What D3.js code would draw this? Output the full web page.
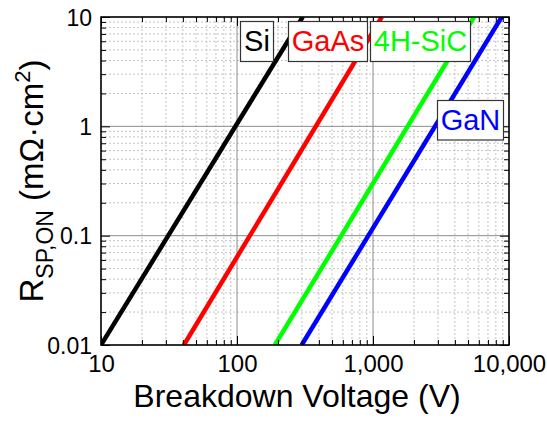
<!DOCTYPE html>
<html>
<head>
<meta charset="utf-8">
<script src="https://cdn.jsdelivr.net/npm/d3@7"></script>
<style>
  html, body { margin: 0; padding: 0; background: #fff; }
  svg { display: block; }
  text { font-family: "Liberation Sans", Arial, sans-serif; }
</style>
</head>
<body>
<svg id="chart" width="547" height="422"></svg>
<script>
// ---- data ----
const materials = ["Si", "GaAs", "4H-SiC", "GaN"];
const colors = ["#000000", "#ff0000", "#00ff00", "#0000ff"];
// breakdown voltage (V) and specific on-resistance (mΩ·cm²) end points of each straight log-log line
const siV = [10, 304];        const siR = [0.01, 10];
const gaasV = [40.7, 1160];   const gaasR = [0.01, 10];
const sicV = [190, 5530];     const sicR = [0.01, 10];
const ganV = [299, 8830];     const ganR = [0.01, 10];
const xTickValues = [10, 100, 1000, 10000];
const xTickLabels = ["10", "100", "1,000", "10,000"];
const yTickValues = [0.01, 0.1, 1, 10];
const yTickLabels = ["0.01", "0.1", "1", "10"];
const xTitle = "Breakdown Voltage (V)";

const seriesV = [siV, gaasV, sicV, ganV];
const seriesR = [siR, gaasR, sicR, ganR];

// ---- layout ----
const L = 101, R = 509, T = 17, B = 345;
const svg = d3.select("#chart");
const x = d3.scaleLog().domain([10, 10000]).range([L, R]);
const y = d3.scaleLog().domain([0.01, 10]).range([B, T]);

const xMinor = x.ticks().filter(v => !xTickValues.includes(v));
const yMinor = y.ticks().filter(v => !yTickValues.some(t => Math.abs(t - v) / t < 1e-9));

// grid
const grid = svg.append("g");
grid.selectAll(".gxm").data(xMinor).join("line")
  .attr("x1", d => x(d)).attr("x2", d => x(d)).attr("y1", T).attr("y2", B)
  .attr("stroke", "#c4c4c4").attr("stroke-width", 1).attr("stroke-dasharray", "2,2");
grid.selectAll(".gym").data(yMinor).join("line")
  .attr("y1", d => y(d)).attr("y2", d => y(d)).attr("x1", L).attr("x2", R)
  .attr("stroke", "#c4c4c4").attr("stroke-width", 1).attr("stroke-dasharray", "2,2");
grid.selectAll(".gxM").data(xTickValues).join("line")
  .attr("x1", d => x(d)).attr("x2", d => x(d)).attr("y1", T).attr("y2", B)
  .attr("stroke", "#8c8c8c").attr("stroke-width", 1);
grid.selectAll(".gyM").data(yTickValues).join("line")
  .attr("y1", d => y(d)).attr("y2", d => y(d)).attr("x1", L).attr("x2", R)
  .attr("stroke", "#8c8c8c").attr("stroke-width", 1);

// lines
svg.append("clipPath").attr("id", "clip").append("rect")
  .attr("x", L).attr("y", T).attr("width", R - L).attr("height", B - T);
const line = d3.line().x(d => x(d[0])).y(d => y(d[1]));
const lines = svg.append("g").attr("clip-path", "url(#clip)");
materials.forEach((m, i) => {
  const pts = seriesV[i].map((v, j) => [v, seriesR[i][j]]);
  lines.append("path").datum(pts).attr("d", line)
    .attr("fill", "none").attr("stroke", colors[i]).attr("stroke-width", 4.5);
});

// axes (ticks inside on all four sides)
function addAxis(gen, tx, ty) {
  const g = svg.append("g").attr("transform", `translate(${tx},${ty})`).call(gen);
  g.select(".domain").remove();
  g.selectAll("line").attr("stroke", "#000").attr("stroke-width", 1);
  return g;
}
addAxis(d3.axisBottom(x).tickValues(xMinor).tickSize(-5).tickFormat(""), 0, B);
addAxis(d3.axisBottom(x).tickValues(xTickValues).tickSize(-9).tickFormat(""), 0, B);
addAxis(d3.axisTop(x).tickValues(xMinor).tickSize(-5).tickFormat(""), 0, T);
addAxis(d3.axisTop(x).tickValues(xTickValues).tickSize(-9).tickFormat(""), 0, T);
addAxis(d3.axisLeft(y).tickValues(yMinor).tickSize(-5).tickFormat(""), L, 0);
addAxis(d3.axisLeft(y).tickValues(yTickValues).tickSize(-9).tickFormat(""), L, 0);
addAxis(d3.axisRight(y).tickValues(yMinor).tickSize(-5).tickFormat(""), R, 0);
addAxis(d3.axisRight(y).tickValues(yTickValues).tickSize(-9).tickFormat(""), R, 0);

// tick labels
const xl = svg.append("g").attr("transform", `translate(0,${B})`)
  .call(d3.axisBottom(x).tickValues(xTickValues).tickSize(0).tickPadding(0)
    .tickFormat((d, i) => xTickLabels[i]));
xl.select(".domain").remove();
xl.selectAll("text").attr("font-size", 24).attr("fill", "#000")
  .attr("font-family", "Liberation Sans, Arial, sans-serif").attr("y", 27).attr("dy", 0);

const yl = svg.append("g").attr("transform", `translate(${L},0)`)
  .call(d3.axisLeft(y).tickValues(yTickValues).tickSize(0).tickPadding(9)
    .tickFormat((d, i) => yTickLabels[i]));
yl.select(".domain").remove();
yl.selectAll("text").attr("font-size", 23).attr("fill", "#000")
  .attr("font-family", "Liberation Sans, Arial, sans-serif").attr("dy", "0.36em");

// frame
svg.append("rect").attr("x", L).attr("y", T).attr("width", R - L).attr("height", B - T)
  .attr("fill", "none").attr("stroke", "#000").attr("stroke-width", 1.5);

// axis titles
svg.append("text").attr("x", 297).attr("y", 407).attr("text-anchor", "middle")
  .attr("font-size", 32).attr("fill", "#000").text(xTitle);

const yt = svg.append("text").attr("transform", "translate(43,181) rotate(-90)")
  .attr("text-anchor", "middle").attr("font-size", 33).attr("fill", "#000");
yt.append("tspan").text("R");
yt.append("tspan").attr("font-size", 23).attr("dy", 10).text("SP,ON");
yt.append("tspan").attr("dy", -10).text(" (mΩ·cm");
yt.append("tspan").attr("font-size", 22).attr("dy", -13).text("2");
yt.append("tspan").attr("dy", 13).text(")");

// labels in boxes
const boxes = [
  {x: 240, y: 21, w: 33, h: 40},
  {x: 288, y: 21, w: 79, h: 40},
  {x: 370, y: 21, w: 100, h: 40},
  {x: 437, y: 100, w: 66, h: 39.5}
];
materials.forEach((m, i) => {
  const b = boxes[i];
  svg.append("rect").attr("x", b.x + 0.5).attr("y", b.y + 0.5).attr("width", b.w).attr("height", b.h)
    .attr("fill", "#fff").attr("stroke", "#333").attr("stroke-width", 1.2);
  svg.append("text").attr("x", b.x + b.w / 2 + 0.5).attr("y", b.y + 30)
    .attr("text-anchor", "middle").attr("font-size", 29).attr("fill", colors[i]).text(m);
});
</script>
</body>
</html>
